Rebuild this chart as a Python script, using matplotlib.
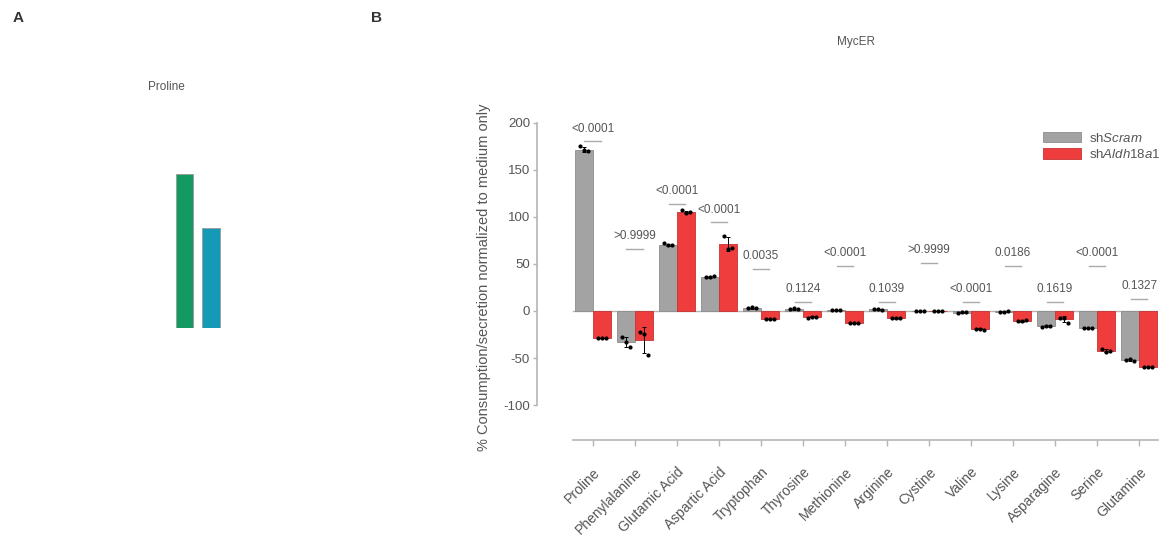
import matplotlib.pyplot as plt
import matplotlib.patches as mpatches
import numpy as np

plt.rcParams['font.family'] = ['Liberation Sans', 'DejaVu Sans']
plt.rcParams['mathtext.fontset'] = 'custom'
plt.rcParams['mathtext.rm'] = 'Liberation Sans'
plt.rcParams['mathtext.it'] = 'Liberation Sans:italic'
plt.rcParams['axes.unicode_minus'] = False

# ---- data ----
amino_acids = ["Proline", "Phenylalanine", "Glutamic Acid", "Aspartic Acid", "Tryptophan",
               "Thyrosine", "Methionine", "Arginine", "Cystine", "Valine", "Lysine",
               "Asparagine", "Serine", "Glutamine"]

scram_mean = [171, -33, 70, 36, 3, 2, 1, 2, 0, -2, -1, -16, -18, -52]
aldh_mean = [-29, -31, 105, 71, -9, -6, -13, -8, 0, -19, -11, -9, -42, -60]

scram_reps = [[175, 171, 170], [-28, -33, -38], [72, 70, 70], [36, 36, 37], [3, 4, 3],
              [2, 3, 2], [1, 1, 1], [2, 2, 1], [0, 0, 0], [-2, -1, -1], [-1, -1, 0],
              [-17, -16, -16], [-18, -18, -18], [-52, -51, -53]]
aldh_reps = [[-29, -29, -29], [-22, -24, -47], [107, 104, 105], [80, 66, 67], [-9, -9, -9],
             [-7, -6, -6], [-13, -13, -13], [-8, -8, -7], [0, 0, 0], [-19, -19, -20],
             [-11, -11, -10], [-8, -7, -13], [-40, -44, -43], [-60, -60, -60]]

p_labels = ["<0.0001", ">0.9999", "<0.0001", "<0.0001", "0.0035", "0.1124", "<0.0001",
            "0.1039", ">0.9999", "<0.0001", "0.0186", "0.1619", "<0.0001", "0.1327"]
p_line_y = [180, 66, 114, 94, 45, 10, 48, 10, 51, 10, 48, 10, 48, 13]

panel_a_labels = ["Proline A", "Proline B"]
panel_a_values = [154, 100]

grey = "#a3a3a3"
red = "#ee3d3c"
txt = "#555555"
axis_grey = "#b5b5b5"

fig = plt.figure(figsize=(11.73, 5.39), dpi=100)
W, H = 1173.0, 539.0

# ---- panel A ----
axA = fig.add_axes([150 / W, 1 - 328 / H, 100 / W, 208 / H])
axA.bar([0, 1], panel_a_values, width=0.66, color=["#139a63", "#1499b6"],
        edgecolor="#9a9a9a", linewidth=0.6)
axA.set_xlim(-1.3, 2.47)
axA.set_ylim(0, 208)
axA.axis("off")
fig.text(166 / W, 1 - 87 / H, "Proline", ha="center", va="center", fontsize=8.5, color=txt)

# ---- panel B ----
ax = fig.add_axes([537 / W, 1 - 440 / H, 621 / W, 325 / H])
x = np.arange(len(amino_acids))
off = 0.215
bw = 0.43

ax.bar(x - off, scram_mean, width=bw, color=grey, edgecolor="#8c8c8c", linewidth=0.6, zorder=2)
ax.bar(x + off, aldh_mean, width=bw, color=red, edgecolor="#c53333", linewidth=0.6, zorder=2)

jit = [-0.1, 0.0, 0.1]
for i in range(len(amino_acids)):
    for reps, sign in ((scram_reps[i], -1), (aldh_reps[i], 1)):
        xc = i + sign * off
        sd = np.std(reps, ddof=1)
        m = scram_mean[i] if sign < 0 else aldh_mean[i]
        ax.errorbar(xc, m, yerr=sd, color="black", lw=0.7, capsize=1.6, capthick=0.7, zorder=3)
        ax.plot([xc + j for j in jit], reps, "o", color="black", markersize=2.0, zorder=4)

# p values with short lines
for i, (lab, ly) in enumerate(zip(p_labels, p_line_y)):
    ax.plot([i - 0.2, i + 0.2], [ly, ly], color="#aaaaaa", lw=1.0)
    ax.text(i, ly + 7, lab, ha="center", va="bottom", fontsize=8.5, color=txt)

ax.set_xlim(-1.33, 13.45)
ax.set_ylim(-137, 208)
ax.set_yticks([-100, -50, 0, 50, 100, 150, 200])
ax.spines["top"].set_visible(False)
ax.spines["right"].set_visible(False)
ax.spines["left"].set_bounds(-100, 200)
ax.spines["bottom"].set_bounds(-0.48, 13.45)
for s in ("left", "bottom"):
    ax.spines[s].set_color(axis_grey)
    ax.spines[s].set_linewidth(1.2)
ax.axhline(0, xmin=(-0.48 + 1.33) / 14.78, color=axis_grey, lw=1.0, zorder=1)
ax.tick_params(axis="y", colors=axis_grey, labelcolor=txt, labelsize=9.5, width=1.0, length=3, pad=2)
ax.tick_params(axis="x", colors=axis_grey, labelcolor=txt, width=1.0, length=4, pad=14)
ax.set_xticks(x)
ax.set_xticklabels(amino_acids, rotation=45, ha="right", rotation_mode="anchor", fontsize=10)
ax.set_ylabel("% Consumption/secretion normalized to medium only", fontsize=10.5, color=txt, labelpad=9)

fig.text(856 / W, 1 - 42 / H, "MycER", ha="center", va="center", fontsize=8.5, color=txt)

handles = [mpatches.Patch(facecolor=grey, edgecolor="#8c8c8c", lw=0.6),
           mpatches.Patch(facecolor=red, edgecolor="#c53333", lw=0.6)]
fig.legend(handles, [r"sh$\it{Scram}$", r"sh$\it{Aldh18a1}$"], loc="upper left",
           bbox_to_anchor=(1036 / W, 1 - 125 / H), frameon=False, fontsize=9.5,
           handlelength=2.9, handleheight=0.85, labelspacing=0.25, handletextpad=0.6,
           borderpad=0, labelcolor=txt)

# panel letters
fig.text(18 / W, 1 - 18 / H, "A", ha="center", va="center", fontsize=11, fontweight="bold", color="#333333")
fig.text(376 / W, 1 - 18 / H, "B", ha="center", va="center", fontsize=11, fontweight="bold", color="#333333")

fig.savefig("out.png", dpi=100)
